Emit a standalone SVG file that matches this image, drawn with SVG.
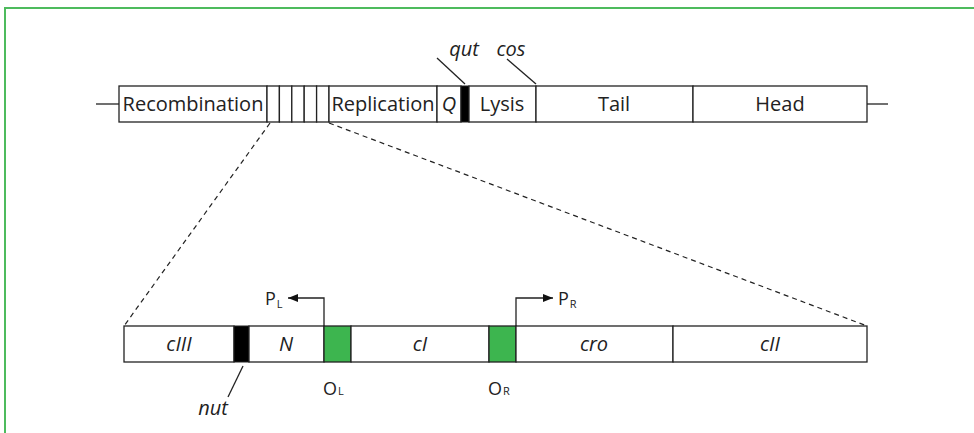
<svg xmlns="http://www.w3.org/2000/svg" width="974" height="433" viewBox="0 0 974 433">
<style>
  .box{fill:#fff;stroke:#222;stroke-width:1.3}
  .ln{stroke:#222;stroke-width:1.3;fill:none}
  .dash{stroke:#222;stroke-width:1.2;fill:none;stroke-dasharray:5 4}
  .t{font-family:"Open Sans","Liberation Sans",sans-serif;font-size:20px;fill:#222;text-anchor:middle}
  .i{font-style:italic}
  .s{font-family:"Open Sans","Liberation Sans",sans-serif;font-size:18px;fill:#222}
  .sub{font-size:11px}
  .grn{fill:#3db54f;stroke:#222;stroke-width:1.3}
  .blk{fill:#000;stroke:#222;stroke-width:1}
</style>
<defs>
  <marker id="ah" viewBox="0 0 10 8" refX="10" refY="4" markerWidth="10" markerHeight="8" markerUnits="userSpaceOnUse" orient="auto">
    <path d="M0,0 L10,4 L0,8 z" fill="#111"/>
  </marker>
</defs>
<rect x="0" y="0" width="974" height="433" fill="#fff"/>
<path d="M5,440 L5,8 L980,8" fill="none" stroke="#4dbb5d" stroke-width="2"/>

<g id="top-map">
  <line class="ln" x1="96" y1="104" x2="119" y2="104"/>
  <line class="ln" x1="867" y1="104" x2="888" y2="104"/>
  <g id="recombination"><rect class="box" x="119" y="86" width="148" height="36"/><text class="t" x="193" y="111">Recombination</text></g>
  <g id="small-genes">
    <rect class="box" x="267" y="86" width="12.4" height="36"/>
    <rect class="box" x="279.4" y="86" width="12.4" height="36"/>
    <rect class="box" x="291.8" y="86" width="12.4" height="36"/>
    <rect class="box" x="304.2" y="86" width="12.4" height="36"/>
    <rect class="box" x="316.6" y="86" width="12.4" height="36"/>
  </g>
  <g id="replication"><rect class="box" x="329" y="86" width="108" height="36"/><text class="t" x="383" y="111">Replication</text></g>
  <g id="Q"><rect class="box" x="437" y="86" width="24" height="36"/><text class="t i" x="449" y="111">Q</text></g>
  <g id="qut-site"><rect class="blk" x="461" y="86" width="8" height="36"/></g>
  <g id="lysis"><rect class="box" x="469" y="86" width="67" height="36"/><text class="t" x="502" y="111">Lysis</text></g>
  <g id="tail"><rect class="box" x="536" y="86" width="157" height="36"/><text class="t" x="614" y="111">Tail</text></g>
  <g id="head"><rect class="box" x="693" y="86" width="174" height="36"/><text class="t" x="780" y="111">Head</text></g>
  <g id="qut"><text class="t i" x="464" y="56">qut</text></g>
  <g id="cos"><text class="t i" x="511" y="56">cos</text></g>
</g>

<g id="bottom-map">
  <g id="cIII"><rect class="box" x="124" y="326" width="110" height="36"/><text class="t i" x="179" y="351">cIII</text></g>
  <g id="nut-site"><rect class="blk" x="234" y="326" width="15" height="36"/></g>
  <g id="N"><rect class="box" x="249" y="326" width="75" height="36"/><text class="t i" x="286" y="351">N</text></g>
  <g id="OL"><rect class="grn" x="324" y="326" width="27" height="36"/><text class="s" x="323" y="395">O<tspan class="sub" dx="1">L</tspan></text></g>
  <g id="cI"><rect class="box" x="351" y="326" width="138" height="36"/><text class="t i" x="420" y="351">cI</text></g>
  <g id="OR"><rect class="grn" x="489" y="326" width="27" height="36"/><text class="s" x="488" y="395">O<tspan class="sub" dx="1">R</tspan></text></g>
  <g id="cro"><rect class="box" x="516" y="326" width="157" height="36"/><text class="t i" x="594" y="351">cro</text></g>
  <g id="cII"><rect class="box" x="673" y="326" width="194" height="36"/><text class="t i" x="770" y="351">cII</text></g>
  <g id="PL"><text class="s" x="265" y="305">P<tspan class="sub" dx="1" dy="3">L</tspan></text></g>
  <g id="PR"><text class="s" x="558" y="305">P<tspan class="sub" dx="1" dy="3">R</tspan></text></g>
  <g id="nut"><text class="t i" x="213" y="415">nut</text></g>
</g>

<g id="connectors">
  <line class="dash" x1="270" y1="123" x2="124" y2="326"/>
  <line class="dash" x1="329" y1="123" x2="867" y2="326"/>
  <line class="ln" x1="437" y1="58" x2="465" y2="84"/>
  <line class="ln" x1="507" y1="59" x2="536" y2="84"/>
  <line class="ln" x1="243" y1="366" x2="228" y2="397"/>
  <polyline class="ln" points="324,326 324,298 288,298" marker-end="url(#ah)"/>
  <polyline class="ln" points="516,326 516,298 553,298" marker-end="url(#ah)"/>
</g>
</svg>
